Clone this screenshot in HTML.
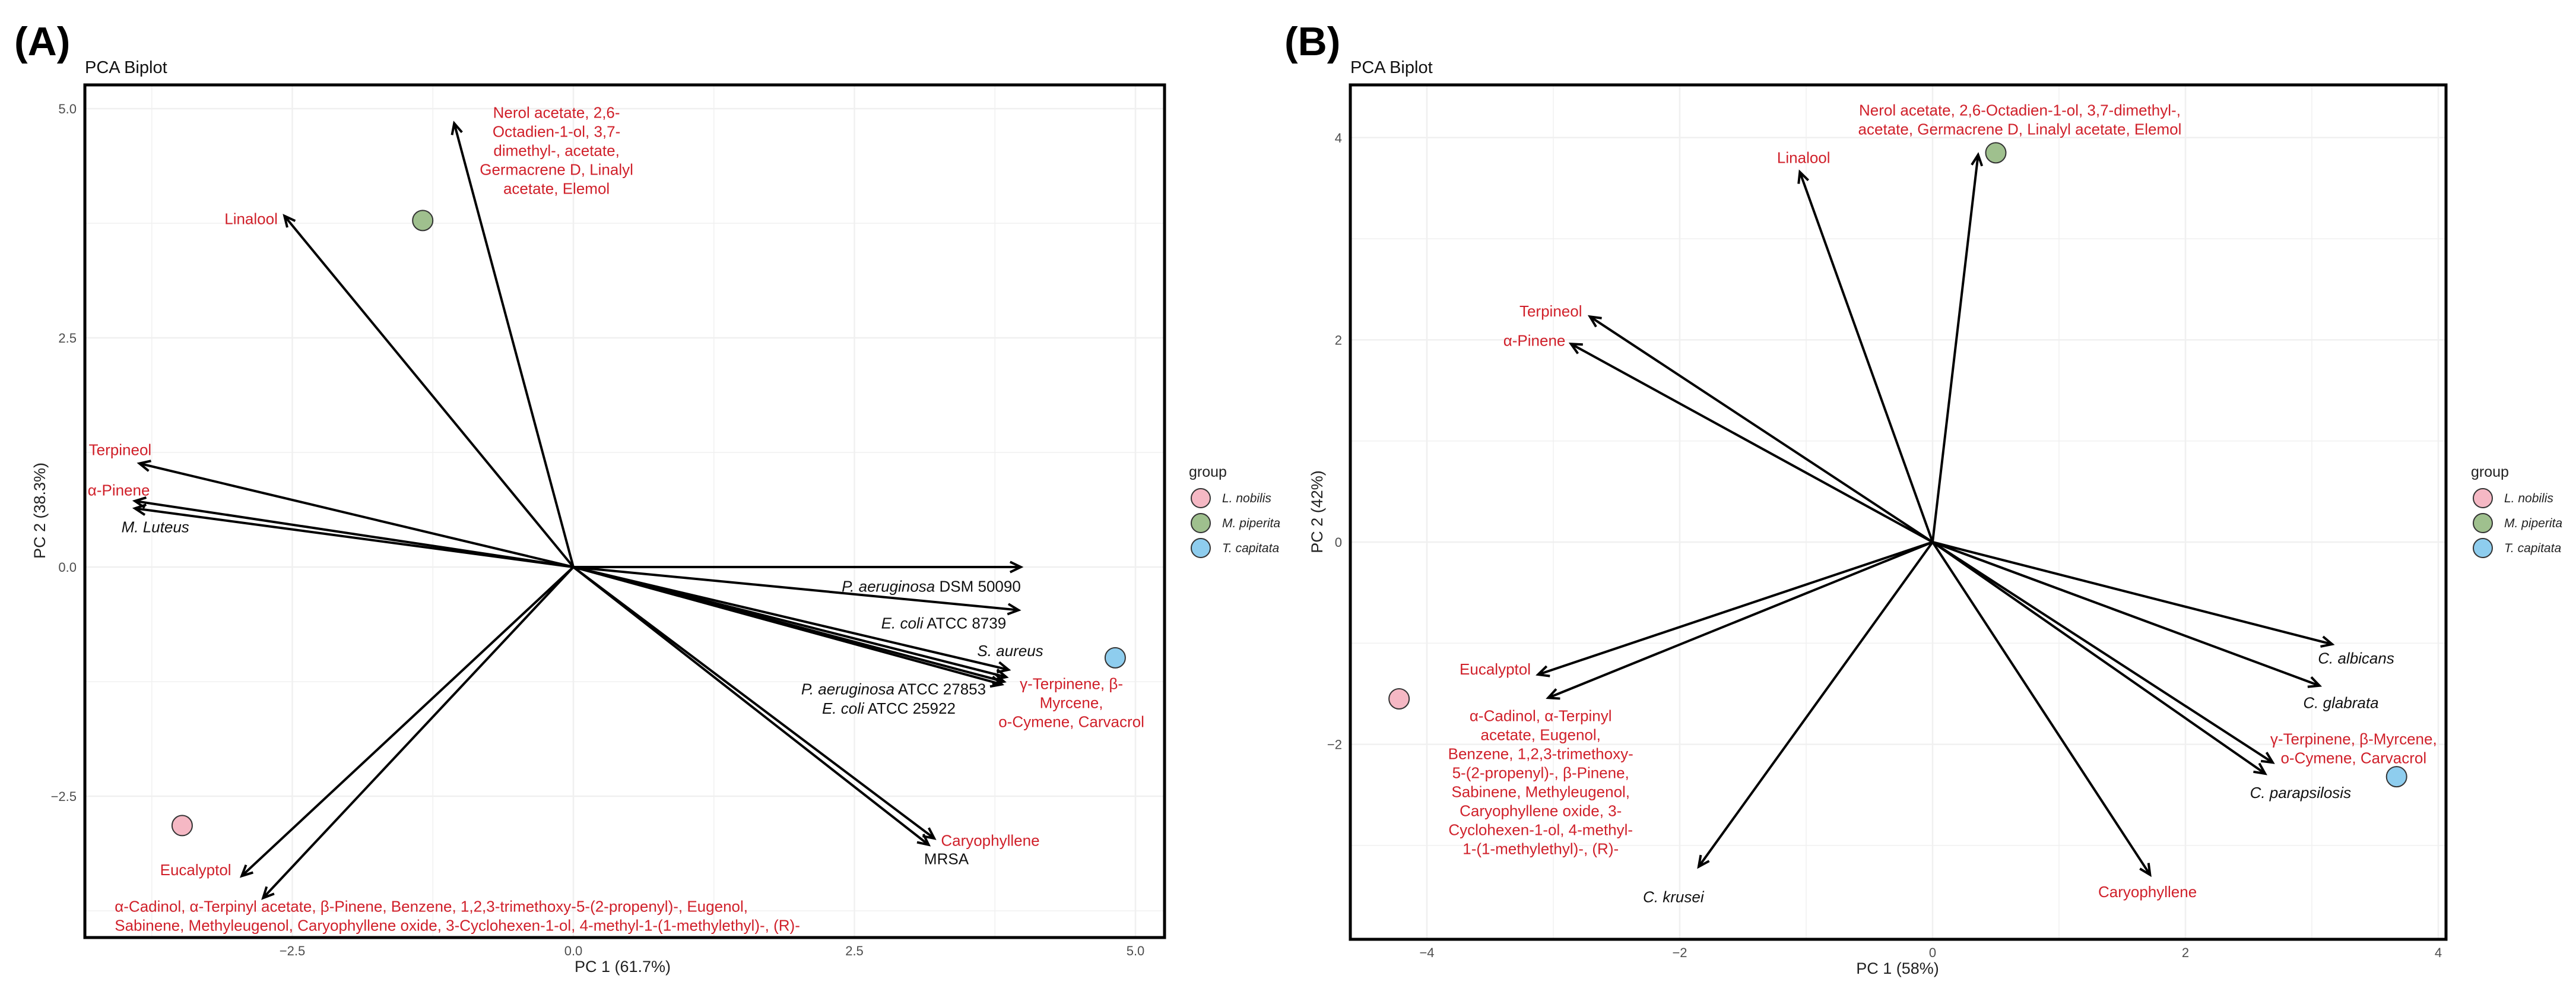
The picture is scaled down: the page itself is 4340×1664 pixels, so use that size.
<!DOCTYPE html>
<html><head><meta charset="utf-8"><style>
html,body{margin:0;padding:0;background:#fff;}
svg{display:block;font-family:"Liberation Sans",Arial,sans-serif;}
</style></head><body>
<svg id="chart" width="4340" height="1664" viewBox="0 0 4340 1664" xmlns="http://www.w3.org/2000/svg">
<rect x="0" y="0" width="4340" height="1664" fill="#fff"/>
</svg>
<script>
// ===== Panel A data =====
const aXTicks = [-2.5, 0, 2.5, 5];
const aXTickLabels = ["\u22122.5", "0.0", "2.5", "5.0"];
const aYTicks = [-2.5, 0, 2.5, 5];
const aYTickLabels = ["\u22122.5", "0.0", "2.5", "5.0"];
const aArrowX = [-1.06, -2.57, -3.86, -3.90, -3.90, 3.98, 3.96, 3.87, 3.85, 3.83, 3.81, 3.21, 3.16, -2.95, -2.76];
const aArrowY = [4.84, 3.83, 1.13, 0.72, 0.64, 0.0, -0.47, -1.12, -1.20, -1.25, -1.28, -2.96, -3.03, -3.37, -3.61];
const aArrowNames = ["nerol","linalool","terpineol","alpha-pinene","m-luteus","p-aeruginosa-dsm","e-coli-8739","s-aureus","gamma-terpinene","p-aeruginosa-27853","e-coli-25922","caryophyllene","mrsa","eucalyptol","alpha-cadinol"];
const aPointX = [-3.48, -1.34, 4.82];
const aPointY = [-2.82, 3.78, -0.99];
const aLabelX = [-0.15, -2.63, -4.31, -4.32, -4.02, 3.98, 3.85, 4.18, 4.43, 3.67, 3.40, 3.27, 3.12, -3.36, -4.08];
const aLabelY = [4.90, 3.74, 1.22, 0.78, 0.38, -0.27, -0.67, -0.97, -1.33, -1.39, -1.60, -3.04, -3.24, -3.36, -3.76];

// ===== Panel B data =====
const bXTicks = [-4, -2, 0, 2, 4];
const bXTickLabels = ["\u22124", "\u22122", "0", "2", "4"];
const bYTicks = [-2, 0, 2, 4];
const bYTickLabels = ["\u22122", "0", "2", "4"];
const bArrowX = [0.36, -1.05, -2.71, -2.86, -3.12, -3.04, -1.85, 1.72, 3.16, 3.06, 2.69, 2.63];
const bArrowY = [3.83, 3.66, 2.23, 1.96, -1.31, -1.54, -3.21, -3.29, -1.01, -1.42, -2.18, -2.29];
const bArrowNames = ["nerol","linalool","terpineol","alpha-pinene","eucalyptol","alpha-cadinol","c-krusei","caryophyllene","c-albicans","c-glabrata","gamma-terpinene","c-parapsilosis"];
const bPointX = [-4.22, 0.50, 3.67];
const bPointY = [-1.55, 3.85, -2.32];
const bLabelX = [0.69, -1.02, -3.02, -3.15, -3.46, -3.10, -2.05, 1.70, 3.35, 3.23, 3.33, 2.91];
const bLabelY = [4.22, 3.75, 2.23, 1.94, -1.31, -1.77, -3.56, -3.51, -1.20, -1.64, -2.00, -2.53];

const groupNames = ["L. nobilis", "M. piperita", "T. capitata"];
const groupColors = ["#f5b8c4", "#9fc08e", "#8ecdee"];
const RED = "#d0202a";

const aLabels = [
 {t:["Nerol acetate, 2,6-","Octadien-1-ol, 3,7-","dimethyl-, acetate,","Germacrene D, Linalyl","acetate, Elemol"],a:"middle",c:RED},
 {t:["Linalool"],a:"end",c:RED},
 {t:["Terpineol"],a:"start",c:RED},
 {t:["\u03b1-Pinene"],a:"start",c:RED},
 {h:[["M. Luteus",true]],a:"start",c:"#111"},
 {h:[["P. aeruginosa",true],[" DSM 50090",false]],a:"end",c:"#111"},
 {h:[["E. coli",true],[" ATCC 8739",false]],a:"end",c:"#111"},
 {h:[["S. aureus",true]],a:"end",c:"#111"},
 {t:["\u03b3-Terpinene, \u03b2-","Myrcene,","o-Cymene, Carvacrol"],a:"middle",c:RED},
 {h:[["P. aeruginosa",true],["  ATCC 27853",false]],a:"end",c:"#111"},
 {h:[["E. coli",true],[" ATCC 25922",false]],a:"end",c:"#111"},
 {t:["Caryophyllene"],a:"start",c:RED},
 {h:[["MRSA",false]],a:"start",c:"#111"},
 {t:["Eucalyptol"],a:"middle",c:RED},
 {t:["\u03b1-Cadinol, \u03b1-Terpinyl acetate, \u03b2-Pinene, Benzene, 1,2,3-trimethoxy-5-(2-propenyl)-, Eugenol,","Sabinene, Methyleugenol, Caryophyllene oxide, 3-Cyclohexen-1-ol, 4-methyl-1-(1-methylethyl)-, (R)-"],a:"start",c:RED}
];
const bLabels = [
 {t:["Nerol acetate, 2,6-Octadien-1-ol, 3,7-dimethyl-,","acetate, Germacrene D, Linalyl acetate, Elemol"],a:"middle",c:RED},
 {t:["Linalool"],a:"middle",c:RED},
 {t:["Terpineol"],a:"middle",c:RED},
 {t:["\u03b1-Pinene"],a:"middle",c:RED},
 {t:["Eucalyptol"],a:"middle",c:RED},
 {t:["\u03b1-Cadinol, \u03b1-Terpinyl","acetate, Eugenol,","Benzene, 1,2,3-trimethoxy-","5-(2-propenyl)-, \u03b2-Pinene,","Sabinene, Methyleugenol,","Caryophyllene oxide, 3-","Cyclohexen-1-ol, 4-methyl-","1-(1-methylethyl)-, (R)-"],a:"middle",c:RED},
 {h:[["C. krusei",true]],a:"middle",c:"#111"},
 {t:["Caryophyllene"],a:"middle",c:RED},
 {h:[["C. albicans",true]],a:"middle",c:"#111"},
 {h:[["C. glabrata",true]],a:"middle",c:"#111"},
 {t:["\u03b3-Terpinene, \u03b2-Myrcene,","o-Cymene, Carvacrol"],a:"middle",c:RED},
 {h:[["C. parapsilosis",true]],a:"middle",c:"#111"}
];

const NS = "http://www.w3.org/2000/svg";
const svg = document.getElementById("chart");
function mk(tag, attrs, parent){const e=document.createElementNS(NS,tag);for(const k in attrs)e.setAttribute(k,attrs[k]);(parent||svg).appendChild(e);return e;}

function drawPanel(P){
  const g = mk("g",{});
  
  
  const sx = v => P.x0 + v*P.kx;
  const sy = v => P.y0 - v*P.ky;
  const L = mk("text",{x:P.letterX,y:P.letterY,"font-size":68,"font-weight":"bold",fill:"#000"},g); L.textContent=P.letter;
   
  const T = mk("text",{x:P.bx1,y:P.by1-20,"font-size":29,fill:"#111"},g); T.textContent="PCA Biplot";
   
  const grid = mk("g",{},g);
   
  const xs=P.xt, ys=P.yt, dx=xs[1]-xs[0], dy=ys[1]-ys[0];
  for(let v=xs[0]-dx*2; v<=xs[xs.length-1]+dx*2; v+=dx/2){const px=sx(v); if(px>P.bx1&&px<P.bx2) mk("line",{x1:px,x2:px,y1:P.by1,y2:P.by2,stroke:"#f0f0f0","stroke-width":Math.abs((v/dx)%1)<1e-6?2.5:1.5},grid);}
  for(let v=ys[0]-dy*2; v<=ys[ys.length-1]+dy*2; v+=dy/2){const py=sy(v); if(py>P.by1&&py<P.by2) mk("line",{y1:py,y2:py,x1:P.bx1,x2:P.bx2,stroke:"#f0f0f0","stroke-width":Math.abs((v/dy)%1)<1e-6?2.5:1.5},grid);}
  P.xt.forEach((v,i)=>{const t=mk("text",{x:sx(v),y:P.by2+30,"font-size":22,fill:"#4d4d4d","text-anchor":"middle"},g);t.textContent=P.xl[i];
     });
  P.yt.forEach((v,i)=>{const t=mk("text",{x:P.bx1-14,y:sy(v)+8,"font-size":22,fill:"#4d4d4d","text-anchor":"end"},g);t.textContent=P.yl[i];
     });
  const xt=mk("text",{x:P.xtitleX,y:P.by2+58,"font-size":27,fill:"#222","text-anchor":"middle"},g);xt.textContent=P.xtitle;
   
  const yt=mk("text",{x:P.ytitleX,y:P.ytitleY,"font-size":27,fill:"#222","text-anchor":"middle",transform:`rotate(-90 ${P.ytitleX} ${P.ytitleY})`},g);yt.textContent=P.ytitle;
   
  const ag = mk("g",{},g);
   
  P.ax.forEach((v,i)=>{
    const x1=sx(0),y1=sy(0),x2=sx(v),y2=sy(P.ay[i]);
    const ang=Math.atan2(y2-y1,x2-x1), h=20, w=0.45;
    const a=mk("path",{d:`M${x1},${y1}L${x2},${y2}M${x2-h*Math.cos(ang-w)},${y2-h*Math.sin(ang-w)}L${x2},${y2}L${x2-h*Math.cos(ang+w)},${y2-h*Math.sin(ang+w)}`,stroke:"#000","stroke-width":4,fill:"none","stroke-linejoin":"miter"},ag);
    
    
  });
  P.px.forEach((v,i)=>{
    const c=mk("circle",{cx:sx(v),cy:sy(P.py[i]),r:17,fill:groupColors[i],stroke:"#333","stroke-width":2},g);
    
    
  });
  P.labels.forEach((lb,i)=>{
    const x=sx(P.lx[i]), y=sy(P.ly[i]);
    const t=mk("text",{x:x,y:y,"font-size":26,fill:lb.c,"text-anchor":lb.a},g);
    
    
    if(lb.t){lb.t.forEach((ln,j)=>{const s=mk("tspan",{x:x,y:y+j*32},t);s.textContent=ln;});}
    else{lb.h.forEach(p=>{const s=mk("tspan",p[1]?{"font-style":"italic"}:{},t);s.textContent=p[0];});}
  });
  const box=mk("rect",{x:P.bx1,y:P.by1,width:P.bx2-P.bx1,height:P.by2-P.by1,fill:"none",stroke:"#000","stroke-width":5},g);
   
  const lg=mk("g",{},g);
   
  const lt=mk("text",{x:P.legX,y:803,"font-size":25,fill:"#222"},lg);lt.textContent="group";
   
  groupNames.forEach((n,i)=>{
    const e=mk("g",{},lg);
     
    mk("circle",{cx:P.legX+20,cy:839+i*42,r:16,fill:groupColors[i],stroke:"#333","stroke-width":2},e);
    const tx=mk("text",{x:P.legX+56,y:846+i*42,"font-size":21,"font-style":"italic",fill:"#222"},e);tx.textContent=n;
  });
}

drawPanel({name:"panel-a",letter:"(A)",letterX:24,letterY:93,bx1:143,bx2:1962,by1:143,by2:1579,
  x0:966,kx:189.4,y0:955,ky:154.4,xt:aXTicks,xl:aXTickLabels,yt:aYTicks,yl:aYTickLabels,
  xtitle:"PC 1 (61.7%)",xtitleX:1049,ytitle:"PC 2 (38.3%)",ytitleX:76,ytitleY:860,
  ax:aArrowX,ay:aArrowY,an:aArrowNames,px:aPointX,py:aPointY,labels:aLabels,lx:aLabelX,ly:aLabelY,legX:2003});
drawPanel({name:"panel-b",letter:"(B)",letterX:2164,letterY:93,bx1:2275,bx2:4121,by1:143,by2:1582,
  x0:3256,kx:213,y0:913,ky:170.3,xt:bXTicks,xl:bXTickLabels,yt:bYTicks,yl:bYTickLabels,
  xtitle:"PC 1 (58%)",xtitleX:3197,ytitle:"PC 2 (42%)",ytitleX:2228,ytitleY:862,
  ax:bArrowX,ay:bArrowY,an:bArrowNames,px:bPointX,py:bPointY,labels:bLabels,lx:bLabelX,ly:bLabelY,legX:4163});
</script>
</body></html>
